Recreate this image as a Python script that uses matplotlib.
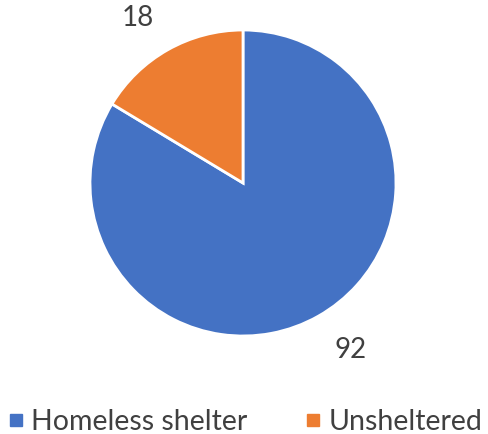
import numpy as np
import matplotlib.pyplot as plt
from matplotlib.lines import Line2D

categories = ["Homeless shelter", "Unsheltered"]
counts = [92, 18]
colors = ["#4472C4", "#ED7D31"]

# where each value label sits, in pie radius units
label_pos = [(0.70, -1.09), (-0.686, 1.078)]

plt.rcParams['font.family'] = ['Lato', 'DejaVu Sans']

fig = plt.figure(figsize=(4.88, 4.34), dpi=100)
ax = fig.add_axes([90 / 488, 98 / 434, 306 / 488, 306 / 434])

wedges, _ = ax.pie(counts, colors=colors, startangle=90, counterclock=False,
                   wedgeprops=dict(edgecolor='white', linewidth=2))
for c, (x, y) in zip(counts, label_pos):
    ax.text(x, y, str(c), ha='center', va='center', fontsize=20, color='#404040')
ax.set_xlim(-1, 1)
ax.set_ylim(-1, 1)
ax.set_aspect('equal')

handles = [Line2D([], [], marker='s', linestyle='none', markersize=8,
                  markerfacecolor=c, markeredgecolor=c) for c in colors]
fig.legend(handles, categories, loc='center', bbox_to_anchor=(0.502, 12 / 434),
           ncol=2, frameon=False, fontsize=20.5, labelcolor='#404040',
           handletextpad=0.25, columnspacing=2.0, handlelength=0.6)

fig.savefig("out.png")
